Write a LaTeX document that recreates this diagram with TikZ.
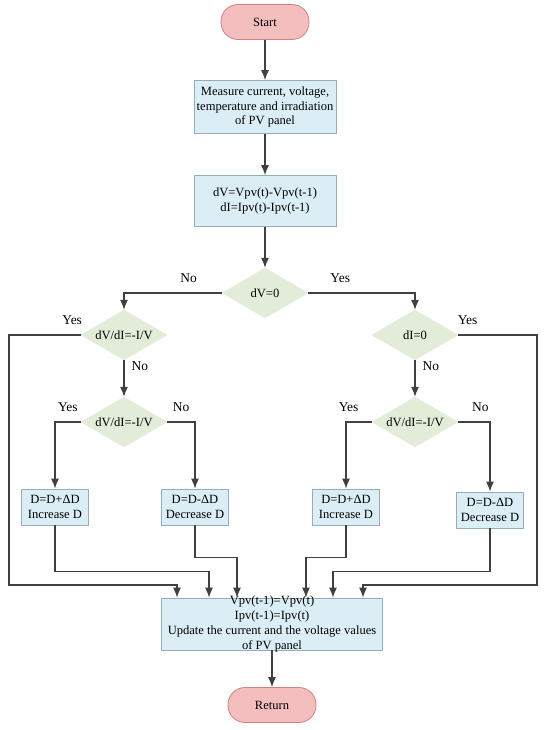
\documentclass[tikz,border=0pt]{standalone}
\usepackage{fontspec}
\setmainfont{Liberation Serif}
\usetikzlibrary{shapes.geometric}
\usetikzlibrary{arrows.meta}

\definecolor{pillfill}{RGB}{245,190,190}
\definecolor{pillline}{RGB}{205,130,130}
\definecolor{boxfill}{RGB}{219,238,245}
\definecolor{boxline}{RGB}{150,172,182}
\definecolor{diafill}{RGB}{226,236,217}

\tikzset{
  terminal/.style={shape=rectangle, rounded corners=17bp, minimum width=88bp, minimum height=35bp, draw=pillline, fill=pillfill, line width=0.8bp},
  process/.style={shape=rectangle, draw=boxline, fill=boxfill, line width=0.8bp, align=center, inner sep=2bp},
  smallbox/.style={process, minimum width=67bp, minimum height=36bp},
  decision/.style={shape=diamond, aspect=1.72, minimum width=86bp, minimum height=50bp, inner sep=0pt, fill=diafill, draw=diafill},
  flow/.style={-{Latex[length=10bp,width=8bp]}, line width=1.1bp, draw=black!75},
  answer/.style={font=\fontsize{13.5}{15}\selectfont, inner sep=1bp, text height=9bp, text depth=2.5bp}
}

\begin{document}
\begin{tikzpicture}[x=1bp, y=-1bp, font=\fontsize{12.6}{15}\selectfont]
\useasboundingbox (0,0) rectangle (550,730);

\node [terminal] (start) at (265,22) {Start};
\node [process, minimum width=142bp, minimum height=53bp] (measure) at (265,107) {Measure current, voltage,\\temperature and irradiation\\of PV panel};
\node [process, minimum width=142bp, minimum height=51bp] (diff) at (265,201) {dV=Vpv(t)-Vpv(t-1)\\dI=Ipv(t)-Ipv(t-1)};
\node [decision] (dvzero) at (265,293) {dV=0};
\node [decision] (left1) at (124,335) {dV/dI=-I/V};
\node [decision] (left2) at (124,422) {dV/dI=-I/V};
\node [decision] (right1) at (415,335) {dI=0};
\node [decision] (right2) at (415,422) {dV/dI=-I/V};
\node [smallbox] (incL) at (55,507) {D=D+ΔD\\Increase D};
\node [smallbox] (decL) at (195,507) {D=D-ΔD\\Decrease D};
\node [smallbox] (incR) at (346,507) {D=D+ΔD\\Increase D};
\node [smallbox] (decR) at (490,510) {D=D-ΔD\\Decrease D};
\node [process, minimum width=221bp, minimum height=52bp, inner ysep=-4bp] (update) at (272,624) {Vpv(t-1)=Vpv(t)\\Ipv(t-1)=Ipv(t)\\Update the current and the voltage values\\of PV panel};
\node [terminal] (return) at (272,705) {Return};
\coordinate (lo) at (9,585);
\coordinate (ro) at (537,585);

\draw [flow] (start) -- (measure);
\draw [flow] (measure) -- (diff);
\draw [flow] (diff) -- (dvzero);
\draw [flow] (dvzero.west) -| node [answer, above=6bp, pos=0.17] {No} (left1.north);
\draw [flow] (dvzero.east) -| node [answer, above=6bp, pos=0.15] {Yes} (right1.north);
\draw [flow] (left1) -- node [answer, right=6bp, pos=0.2] {No} (left2);
\draw [flow] (right1) -- node [answer, right=6bp, pos=0.2] {No} (right2);
\draw [flow] (left2.west) -| node [answer, above=6bp, pos=0.25] {Yes} (incL.north);
\draw [flow] (left2.east) -| node [answer, above=6bp, pos=0.25] {No} (decL.north);
\draw [flow] (right2.west) -| node [answer, above=6bp, pos=0.45] {Yes} (incR.north);
\draw [flow] (right2.east) -| node [answer, above=6bp, pos=0.35] {No} (decR.north);
\draw [flow] (left1.west) -| node [answer, above=6bp, pos=0.06] {Yes} (lo) -| ([xshift=-95bp]update.north);
\draw [flow] (right1.east) -| node [answer, above=6bp, pos=0.06] {Yes} (ro) -| ([xshift=91bp]update.north);
\draw [flow] (incL.south) -- ++(0,46) -| ([xshift=-63bp]update.north);
\draw [flow] (decL.south) -- ++(0,32) -| ([xshift=-35bp]update.north);
\draw [flow] (incR.south) -- ++(0,32) -| ([xshift=34bp]update.north);
\draw [flow] (decR.south) -- ++(0,43) -| ([xshift=61bp]update.north);
\draw [flow] (update) -- (return);
\end{tikzpicture}
\end{document}
